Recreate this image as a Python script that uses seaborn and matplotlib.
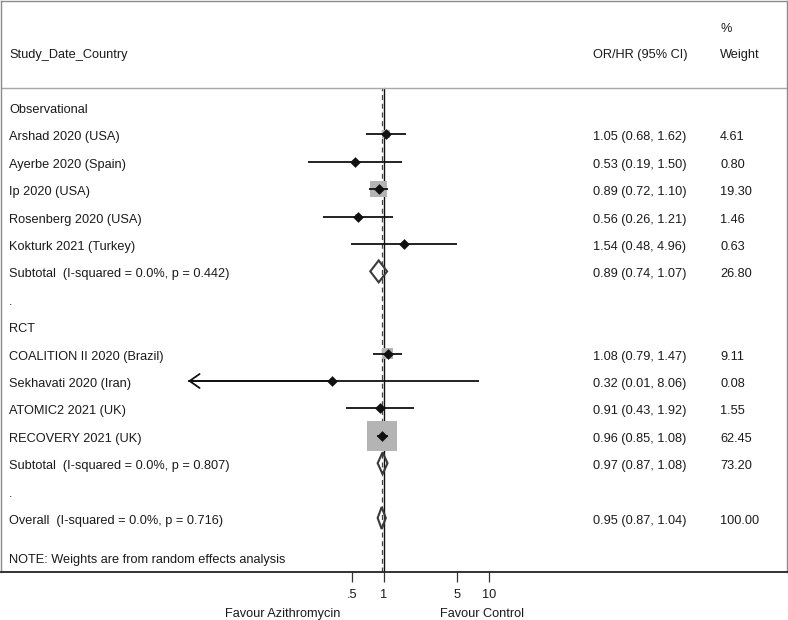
import numpy as np
import pandas as pd
import matplotlib
matplotlib.use("Agg")
import matplotlib.pyplot as plt
from matplotlib.ticker import NullLocator
from matplotlib.transforms import offset_copy
import seaborn as sns

# ---------------- data ----------------
groups = ["Observational", "RCT"]
studies = ["Arshad 2020 (USA)", "Ayerbe 2020 (Spain)", "Ip 2020 (USA)",
           "Rosenberg 2020 (USA)", "Kokturk 2021 (Turkey)",
           "COALITION II 2020 (Brazil)", "Sekhavati 2020 (Iran)",
           "ATOMIC2 2021 (UK)", "RECOVERY 2021 (UK)"]
study_group = ["Observational"] * 5 + ["RCT"] * 4
est = [1.05, 0.53, 0.89, 0.56, 1.54, 1.08, 0.32, 0.91, 0.96]
lo = [0.68, 0.19, 0.72, 0.26, 0.48, 0.79, 0.01, 0.43, 0.85]
hi = [1.62, 1.50, 1.10, 1.21, 4.96, 1.47, 8.06, 1.92, 1.08]
wt = [4.61, 0.80, 19.30, 1.46, 0.63, 9.11, 0.08, 1.55, 62.45]

sub_labels = ["Subtotal  (I-squared = 0.0%, p = 0.442)",
              "Subtotal  (I-squared = 0.0%, p = 0.807)"]
sub_est = [0.89, 0.97]
sub_lo = [0.74, 0.87]
sub_hi = [1.07, 1.08]
sub_wt = [26.80, 73.20]

overall_label = "Overall  (I-squared = 0.0%, p = 0.716)"
overall_est, overall_lo, overall_hi, overall_wt = 0.95, 0.87, 1.04, 100.00

xtick_vals = [0.5, 1, 5, 10]
xtick_labels = [".5", "1", "5", "10"]
left_clip = 0.0136
note = "NOTE: Weights are from random effects analysis"
header_study = "Study_Date_Country"
header_or = "OR/HR (95% CI)"
header_w1, header_w2 = "%", "Weight"
favour_left, favour_right = "Favour Azithromycin", "Favour Control"

# ---------------- layout ----------------
sns.set_theme(style="white")
plt.rcParams["font.family"] = ["Liberation Sans", "DejaVu Sans"]
FS = 9.2
TXT = "#1a1a1a"

W, H = 788, 620
fig = plt.figure(figsize=(W / 100, H / 100), dpi=100)
fig.patch.set_facecolor("white")
ax_l, ax_r, ax_t, ax_b = 1.0, 787.0, 0.5, 572.0
ax = fig.add_axes([ax_l / W, (H - ax_b) / H, (ax_r - ax_l) / W, (ax_b - ax_t) / H])

one_px, decade_px = 384.0, 105.0
row0_px, row_px = 107.0, 27.4


def px2row(p):
    return (p - row0_px) / row_px


def px2ax(x):
    return (x - ax_l) / (ax_r - ax_l)


# build rows
rows = []  # (kind, label, index)
for gi, g in enumerate(groups):
    rows.append(("group", g, None))
    for k in range(len(studies)):
        if study_group[k] == g:
            rows.append(("study", studies[k], k))
    rows.append(("sub", sub_labels[gi], gi))
    rows.append(("dot", ".", None))
rows.append(("overall", overall_label, None))

study_rows = {}
sub_rows = {}
overall_row = None
for r, (kind, lab, idx) in enumerate(rows):
    if kind == "study":
        study_rows[idx] = r
    elif kind == "sub":
        sub_rows[idx] = r
    elif kind == "overall":
        overall_row = r

df = pd.DataFrame({"study": studies, "est": est, "lo": lo, "hi": hi, "wt": wt,
                   "row": [study_rows[k] for k in range(len(studies))]})

# weight squares
k_area = (3.75 * 0.72) ** 2
sns.scatterplot(data=df, x="est", y="row", size="wt",
                sizes=(k_area * df.wt.min(), k_area * df.wt.max()),
                size_norm=(df.wt.min(), df.wt.max()),
                marker="s", color="#b4b4b4", linewidth=0, legend=False,
                ax=ax, zorder=2)

# CI lines
for _, d in df.iterrows():
    left = max(d.lo, left_clip)
    ax.plot([left, d.hi], [d.row, d.row], color="#111111", lw=1.3,
            solid_capstyle="butt", zorder=3)
    if d.lo < left_clip:
        ax.annotate("", xy=(left_clip, d.row), xytext=(d.est, d.row),
                    arrowprops=dict(arrowstyle="->,head_length=0.6,head_width=0.42",
                                    color="#111111", lw=1.3, shrinkA=0, shrinkB=0),
                    zorder=3)

# point estimates
sns.scatterplot(data=df, x="est", y="row", marker="D", s=30, color="#111111",
                linewidth=0, legend=False, ax=ax, zorder=4)

# diamonds
dia_h = 0.4
for e, l, h, r in list(zip(sub_est, sub_lo, sub_hi, [sub_rows[i] for i in range(2)])) + \
        [(overall_est, overall_lo, overall_hi, overall_row)]:
    ax.fill([l, e, h, e], [r, r - dia_h, r, r + dia_h], facecolor="none",
            edgecolor="#3a3a3a", lw=1.5, zorder=5)

# axes scales
ax.set_xscale("log")
ax.set_xlim(10 ** ((ax_l - one_px) / decade_px), 10 ** ((ax_r - one_px) / decade_px))
ax.set_ylim(px2row(ax_b), px2row(ax_t))

# reference lines
sep_row = px2row(88)
frac = (ax_b - 88) / (ax_b - ax_t)
ax.axvline(1, ymin=0, ymax=frac, color="#111111", lw=1.0, zorder=1)
ax.axvline(overall_est, ymin=0, ymax=frac, color="#444444", lw=0.9,
           ls=(0, (4, 3)), zorder=1)
ax.axhline(sep_row, color="#a8a8a8", lw=1.0, zorder=1)

# texts (shifted a few pixels down so the cap-height centre sits on the row)
tr = offset_copy(ax.get_yaxis_transform(), fig=fig, y=-3, units="dots")
x_lab, x_or, x_w = px2ax(9), px2ax(593), px2ax(720)
ax.text(x_lab, px2row(52), header_study, transform=tr, ha="left", va="center",
        fontsize=FS, color=TXT)
ax.text(x_or, px2row(52), header_or, transform=tr, ha="left", va="center",
        fontsize=FS, color=TXT)
ax.text(x_w, px2row(26), header_w1, transform=tr, ha="left", va="center",
        fontsize=FS, color=TXT)
ax.text(x_w, px2row(52), header_w2, transform=tr, ha="left", va="center",
        fontsize=FS, color=TXT)

for r, (kind, lab, idx) in enumerate(rows):
    ax.text(x_lab, r, lab, transform=tr, ha="left", va="center", fontsize=FS, color=TXT)
    if kind == "study":
        e, l, h, w = est[idx], lo[idx], hi[idx], wt[idx]
    elif kind == "sub":
        e, l, h, w = sub_est[idx], sub_lo[idx], sub_hi[idx], sub_wt[idx]
    elif kind == "overall":
        e, l, h, w = overall_est, overall_lo, overall_hi, overall_wt
    else:
        continue
    ax.text(x_or, r, f"{e:.2f} ({l:.2f}, {h:.2f})", transform=tr, ha="left",
            va="center", fontsize=FS, color=TXT)
    ax.text(x_w, r, f"{w:.2f}", transform=tr, ha="left", va="center",
            fontsize=FS, color=TXT)

ax.text(x_lab, px2row(557), note, transform=tr, ha="left", va="center",
        fontsize=FS, color=TXT)

# ticks
ax.set_xticks(xtick_vals)
ax.set_xticklabels(xtick_labels)
ax.xaxis.set_minor_locator(NullLocator())
ax.set_yticks([])
ax.tick_params(axis="x", bottom=True, length=7.5, width=0.9, color="#333333",
               pad=4.5, labelsize=FS, labelcolor=TXT, direction="out")
ax.set_xlabel("")
ax.set_ylabel("")

for side in ["left", "right", "top"]:
    ax.spines[side].set_color("#8a8a8a")
    ax.spines[side].set_linewidth(1.0)
ax.spines["bottom"].set_color("#222222")
ax.spines["bottom"].set_linewidth(1.3)

fig.text(283 / W, 1 - 614 / H, favour_left, ha="center", va="center",
         fontsize=FS, color=TXT)
fig.text(482 / W, 1 - 614 / H, favour_right, ha="center", va="center",
         fontsize=FS, color=TXT)

fig.savefig("out.png", dpi=100)
